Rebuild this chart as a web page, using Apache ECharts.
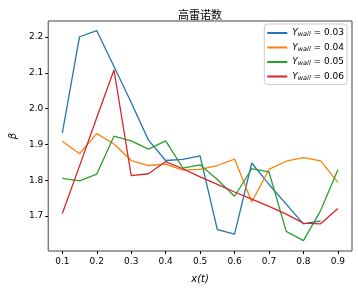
<!DOCTYPE html>
<html><head><meta charset="utf-8">
<script src="https://cdn.jsdelivr.net/npm/echarts@6/dist/echarts.min.js"></script>
<style>html,body{margin:0;padding:0;background:#fff}#c{width:358px;height:289px}</style>
</head><body><div id="c"></div>
<script>
const xs = [0.1,0.15,0.2,0.25,0.3,0.35,0.4,0.45,0.5,0.55,0.6,0.65,0.7,0.75,0.8,0.85,0.9];
const y003 = [1.932,2.201,2.218,2.118,2.017,1.912,1.855,1.858,1.868,1.662,1.649,1.848,1.788,1.733,1.678,1.686];
const y004 = [1.909,1.874,1.930,1.901,1.855,1.841,1.845,1.828,1.830,1.841,1.859,1.739,1.830,1.853,1.863,1.854,1.794];
const y005 = [1.805,1.798,1.817,1.923,1.910,1.887,1.910,1.834,1.843,1.802,1.755,1.832,1.823,1.657,1.631,1.715,1.829];
const y006 = [1.707,1.840,1.975,2.108,1.813,1.818,1.852,1.832,1.809,1.788,1.767,1.747,1.727,1.705,1.680,1.678,1.721];
const seriesNames = ['0.03','0.04','0.05','0.06'];
const seriesData = [y003,y004,y005,y006];
const colors = ['#1f77b4','#ff7f0e','#2ca02c','#d62728'];
const xTicks = [0.1,0.2,0.3,0.4,0.5,0.6,0.7,0.8,0.9];
const yTicks = [1.7,1.8,1.9,2.0,2.1,2.2];

const font = 'DejaVu Sans';
const chart = echarts.init(document.getElementById('c'));
chart.setOption({
  animation:false,
  title:{text:'高雷诺数',left:195,top:4,textAlign:'center',textStyle:{fontSize:11,fontWeight:'normal',color:'#000',fontFamily:'Noto Sans CJK SC'}},
  grid:{left:38,right:6,top:21,bottom:35,show:true,borderColor:'#444',borderWidth:1,containLabel:false},
  legend:{
    orient:'vertical',right:11,top:24,itemWidth:20,itemHeight:2,itemGap:3.5,icon:'rect',
    backgroundColor:'#fff',borderColor:'#ccc',borderWidth:1,borderRadius:3,padding:[3,3,3,3],
    data:seriesNames.map(n=>'Y'+n),
    formatter:function(name){return '{i|Y}{s|wall}{n| = '+name.slice(1)+'}';},
    textStyle:{fontFamily:font,color:'#000',lineHeight:10,rich:{
      i:{fontStyle:'italic',fontSize:9,fontFamily:font,lineHeight:10},
      s:{fontStyle:'italic',fontSize:6.5,fontFamily:font,verticalAlign:'bottom',padding:[4,0,0,0],lineHeight:10},
      n:{fontSize:9,fontFamily:font,lineHeight:10}
    }}
  },
  xAxis:{type:'value',min:0.059,max:0.941,
    name:'x(t)',nameLocation:'middle',nameGap:23,nameTextStyle:{fontStyle:'italic',fontSize:10,fontFamily:font,color:'#000'},
    axisLine:{show:false},splitLine:{show:false},
    axisTick:{show:true,length:3,lineStyle:{color:'#000'},customValues:xTicks},
    axisLabel:{customValues:xTicks,fontSize:9,fontFamily:font,color:'#000',margin:6,formatter:v=>v.toFixed(1)}
  },
  yAxis:{type:'value',min:1.602,max:2.245,
    name:'β',nameLocation:'middle',nameGap:27,nameRotate:90,nameTextStyle:{fontStyle:'italic',fontSize:10,fontFamily:font,color:'#000'},
    axisLine:{show:false},splitLine:{show:false},
    axisTick:{show:true,length:3,lineStyle:{color:'#000'},customValues:yTicks},
    axisLabel:{customValues:yTicks,fontSize:9,fontFamily:font,color:'#000',margin:5,formatter:v=>v.toFixed(1)}
  },
  series:seriesData.map((d,i)=>({
    name:'Y'+seriesNames[i],type:'line',showSymbol:false,symbol:'none',
    data:d.map((v,j)=>[xs[j],v]),
    lineStyle:{color:colors[i],width:1.3},itemStyle:{color:colors[i]}
  }))
});
</script></body></html>
